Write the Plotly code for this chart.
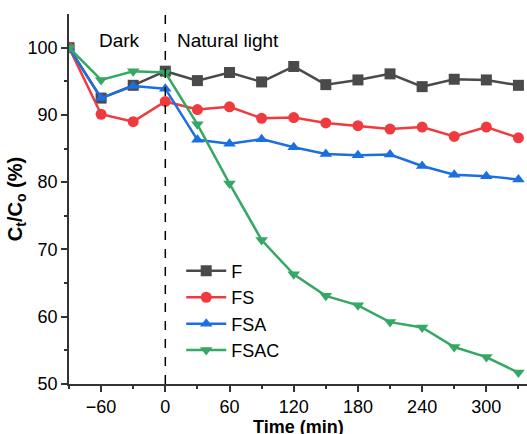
import plotly.graph_objects as go

time = [-90, -60, -30, 0, 30, 60, 90, 120, 150, 180, 210, 240, 270, 300, 330]
F = [100, 92.5, 94.4, 96.5, 95.1, 96.3, 94.9, 97.2, 94.5, 95.2, 96.1, 94.2, 95.3, 95.2, 94.4]
FS = [100, 90.1, 89.0, 92.0, 90.8, 91.2, 89.5, 89.6, 88.8, 88.4, 87.9, 88.2, 86.8, 88.2, 86.6]
FSA = [100, 92.5, 94.3, 93.9, 86.3, 85.7, 86.4, 85.2, 84.2, 84.0, 84.1, 82.4, 81.1, 80.9, 80.4]
FSAC = [100, 95.2, 96.5, 96.3, 88.6, 79.8, 71.4, 66.3, 63.1, 61.7, 59.2, 58.4, 55.5, 54.0, 51.7]

series = [
    ("F", F, "#4a4a4a", "square"),
    ("FS", FS, "#ef3b3f", "circle"),
    ("FSA", FSA, "#1b6fe0", "triangle-up"),
    ("FSAC", FSAC, "#35a866", "triangle-down"),
]

fig = go.Figure()
for name, vals, color, sym in series:
    fig.add_trace(go.Scatter(
        x=time, y=vals, name=name, mode="lines+markers",
        line=dict(color=color, width=2.5),
        marker=dict(symbol=sym, size=11, color=color),
    ))

fig.add_shape(type="line", x0=0, x1=0, xref="x", y0=0, y1=1, yref="paper",
              line=dict(color="black", width=1.5, dash="dash"))

fig.add_annotation(x=-43, y=101.1, text="Dark", showarrow=False,
                   font=dict(size=19, color="black"), xanchor="center")
fig.add_annotation(x=9, y=101.1, text="Natural light", showarrow=False,
                   font=dict(size=19, color="black"), xanchor="left")
fig.add_annotation(x=0.5, xref="paper", y=0, yref="paper", yshift=-32,
                   text="<b>Time (min)</b>", showarrow=False, yanchor="top",
                   xanchor="center", font=dict(size=18, color="black"),
                   borderpad=0)

fig.update_layout(
    width=527, height=434,
    margin=dict(l=69, r=0, t=14, b=50),
    paper_bgcolor="white", plot_bgcolor="white",
    font=dict(family="Liberation Sans, Arial, sans-serif", size=18, color="black"),
    showlegend=True,
    legend=dict(x=0.245, y=0.355, xanchor="left", yanchor="top",
                bgcolor="rgba(0,0,0,0)", font=dict(size=18),
                tracegroupgap=0, itemwidth=40),
)
fig.update_xaxes(
    range=[-90, 338], tickvals=[-60, 0, 60, 120, 180, 240, 300],
    ticks="outside", ticklen=6, tickwidth=1.5, tickcolor="#333",
    minor=dict(tickvals=[-90, -30, 30, 90, 150, 210, 270, 330], ticks="outside",
               ticklen=3, tickwidth=1.5, tickcolor="#333"),
    showline=True, linecolor="#333", linewidth=1.5, showgrid=False, zeroline=False,
)
fig.update_yaxes(
    range=[50, 105], tickvals=[50, 60, 70, 80, 90, 100],
    ticks="outside", ticklen=6, tickwidth=1.5, tickcolor="#333",
    minor=dict(tickvals=[55, 65, 75, 85, 95], ticks="outside",
               ticklen=3, tickwidth=1.5, tickcolor="#333"),
    showline=True, linecolor="#333", linewidth=1.5, showgrid=False, zeroline=False,
    title=dict(text="<b>C<sub>t</sub>/C<sub>o</sub> (%)</b>", standoff=0, font=dict(size=20)),
)

fig.write_html("out.html")
